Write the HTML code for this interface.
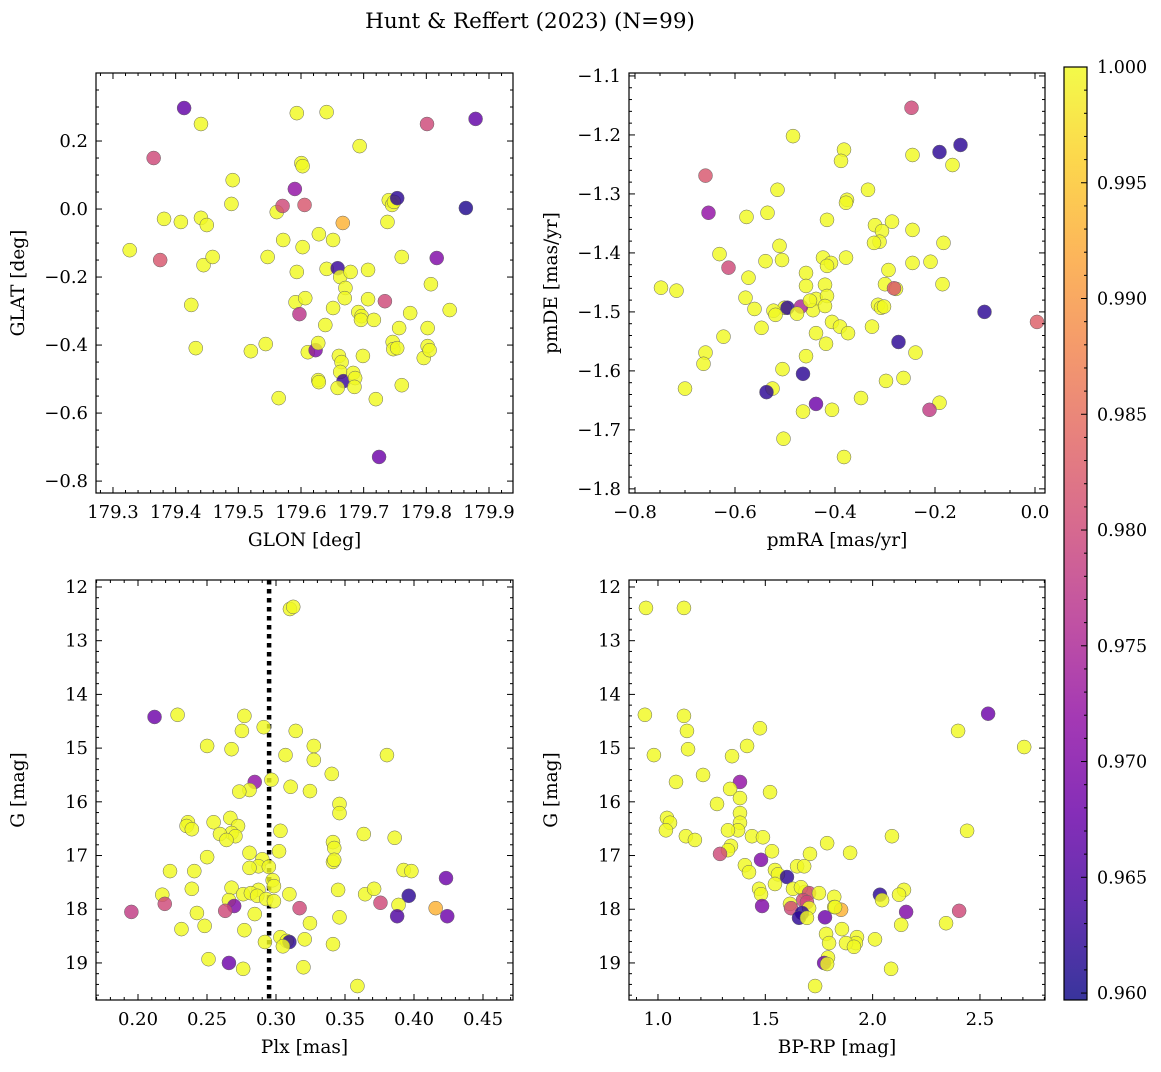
<!DOCTYPE html>
<html><head><meta charset="utf-8"><style>
body{margin:0;background:#fff}
svg text{font-family:"DejaVu Serif","Liberation Serif",serif;fill:#000}
</style></head><body>
<svg id="fig" width="1161" height="1067" xmlns="http://www.w3.org/2000/svg">
<text x="530" y="28" font-size="21.5" text-anchor="middle">Hunt &amp; Reffert (2023) (N=99)</text>
</svg>
<script>
// Panel 1: GLON / GLAT
const p1x=[179.4135,179.4404,179.3649,179.3267,179.3753,179.3815,179.4083,179.4404,179.4497,179.4445,179.4590,179.4249,179.4321,179.4910,179.4890,179.5200,179.5437,179.5468,179.5613,179.5644,179.5706,179.5716,179.5933,179.5902,179.6057,179.6006,179.6026,179.6026,179.5933,179.5913,179.5975,179.6068,179.6109,179.6233,179.6285,179.6275,179.6409,179.6409,179.6512,179.6275,179.6285,179.6667,179.6585,179.6626,179.6709,179.6698,179.6791,179.6512,179.6388,179.6605,179.6647,179.6626,179.6678,179.6585,179.6833,179.6864,179.6853,179.6915,179.6967,179.6957,179.6988,179.6936,179.7070,179.7070,179.7163,179.7194,179.7339,179.7380,179.7401,179.7453,179.7484,179.7535,179.7246,179.7463,179.7473,179.7535,179.7566,179.7608,179.7608,179.7742,179.7959,179.8021,179.8052,179.8021,179.8073,179.8011,179.8166,179.8373,179.8631,179.8786];
const p1y=[0.297,0.25,0.15,-0.121,-0.15,-0.029,-0.038,-0.026,-0.047,-0.165,-0.141,-0.282,-0.409,0.085,0.015,-0.418,-0.397,-0.141,-0.009,-0.556,0.009,-0.091,0.282,0.059,0.012,0.135,0.126,-0.112,-0.185,-0.274,-0.309,-0.262,-0.421,-0.415,-0.074,-0.394,0.285,-0.176,-0.091,-0.503,-0.509,-0.041,-0.174,-0.2,-0.232,-0.262,-0.185,-0.291,-0.341,-0.432,-0.45,-0.479,-0.506,-0.526,-0.482,-0.497,-0.523,-0.303,-0.315,-0.326,-0.432,0.185,-0.179,-0.265,-0.326,-0.559,-0.271,-0.038,0.026,0.012,0.021,0.032,-0.729,-0.391,-0.412,-0.409,-0.35,-0.141,-0.518,-0.306,-0.438,-0.403,-0.415,-0.35,-0.221,0.25,-0.144,-0.297,0.003,0.265];
const p1c=[0.967,1,0.98,1,0.982,1,1,1,1,1,1,1,1,1,1,1,1,1,1,1,0.98,1,1,0.972,0.982,1,1,1,1,1,0.977,1,1,0.97,1,1,1,1,1,1,1,0.993,0.963,1,1,1,1,1,1,1,1,1,0.963,1,1,1,1,1,1,1,1,1,1,1,1,1,0.98,1,1,1,1,0.962,0.968,1,1,1,1,1,1,1,1,1,1,1,1,0.98,0.97,1,0.961,0.967];
// Panel 2: pmRA / pmDE
const p2x=[-0.247,-0.149,-0.191,-0.245,-0.165,-0.659,-0.653,-0.484,-0.382,-0.388,-0.515,-0.334,-0.376,-0.378,-0.577,-0.535,-0.416,-0.320,-0.286,-0.306,-0.245,-0.311,-0.322,-0.183,-0.511,-0.631,-0.613,-0.539,-0.506,-0.424,-0.408,-0.416,-0.378,-0.245,-0.209,-0.458,-0.293,-0.458,-0.420,-0.573,-0.748,-0.717,-0.300,-0.185,-0.278,-0.282,-0.579,-0.438,-0.416,-0.444,-0.501,-0.561,-0.523,-0.468,-0.495,-0.476,-0.420,-0.450,-0.314,-0.308,-0.302,-0.101,0.004,-0.547,-0.519,-0.438,-0.406,-0.390,-0.374,-0.326,-0.623,-0.273,-0.418,-0.458,-0.239,-0.659,-0.663,-0.505,-0.464,-0.263,-0.298,-0.700,-0.525,-0.537,-0.348,-0.438,-0.191,-0.211,-0.464,-0.406,-0.503,-0.382];
const p2y=[-1.154,-1.217,-1.229,-1.234,-1.251,-1.269,-1.332,-1.202,-1.225,-1.244,-1.293,-1.293,-1.31,-1.315,-1.339,-1.332,-1.344,-1.353,-1.347,-1.363,-1.361,-1.381,-1.383,-1.383,-1.388,-1.402,-1.425,-1.414,-1.412,-1.408,-1.417,-1.422,-1.408,-1.417,-1.415,-1.434,-1.429,-1.456,-1.454,-1.442,-1.459,-1.464,-1.453,-1.453,-1.461,-1.46,-1.476,-1.478,-1.473,-1.497,-1.493,-1.495,-1.498,-1.491,-1.493,-1.503,-1.49,-1.481,-1.488,-1.493,-1.491,-1.5,-1.517,-1.527,-1.505,-1.536,-1.517,-1.525,-1.536,-1.525,-1.542,-1.551,-1.554,-1.575,-1.569,-1.569,-1.588,-1.597,-1.605,-1.612,-1.617,-1.63,-1.63,-1.636,-1.646,-1.656,-1.654,-1.666,-1.669,-1.666,-1.715,-1.746];
const p2c=[0.98,0.962,0.962,1,1,0.982,0.972,1,1,1,1,1,1,1,1,1,1,1,1,1,1,1,1,1,1,1,0.98,1,1,1,1,1,1,1,1,1,1,1,1,1,1,1,1,1,1,0.982,1,1,1,1,1,1,1,0.975,0.962,1,1,1,1,1,1,0.962,0.983,1,1,1,1,1,1,1,1,0.962,1,1,1,1,1,1,0.962,1,1,1,1,0.962,1,0.968,1,0.978,1,1,1,1];
// Panel 3: Plx / G
const p3x=[0.3101,0.3125,0.2120,0.2287,0.2771,0.2753,0.2911,0.3143,0.2501,0.2678,0.3274,0.3069,0.3274,0.3804,0.3404,0.2846,0.2967,0.3106,0.2808,0.3246,0.2734,0.3460,0.3460,0.2362,0.2548,0.2352,0.2390,0.2669,0.2725,0.2678,0.2706,0.2594,0.2641,0.3032,0.3636,0.3860,0.3413,0.3422,0.3413,0.2501,0.2808,0.3022,0.2901,0.2873,0.2948,0.3422,0.2232,0.2408,0.2808,0.3925,0.3981,0.4232,0.2976,0.2390,0.2678,0.2762,0.2873,0.2818,0.2985,0.3097,0.2864,0.3450,0.3646,0.3711,0.2176,0.2659,0.2929,0.2194,0.2697,0.2985,0.3757,0.3962,0.3888,0.4157,0.3171,0.1952,0.2427,0.2632,0.2846,0.3878,0.4241,0.3460,0.3246,0.2315,0.2483,0.2771,0.3032,0.3208,0.2920,0.3078,0.3097,0.3050,0.3413,0.2511,0.2659,0.2762,0.3199,0.3590];
const p3y=[12.41,12.37,14.42,14.38,14.40,14.68,14.61,14.68,14.96,15.02,14.96,15.13,15.22,15.13,15.48,15.63,15.59,15.72,15.78,15.8,15.81,16.04,16.21,16.38,16.38,16.45,16.51,16.3,16.45,16.58,16.64,16.6,16.71,16.54,16.6,16.67,16.75,16.86,17.12,17.03,16.95,16.92,17.07,17.2,17.21,17.08,17.29,17.29,17.23,17.27,17.29,17.42,17.46,17.62,17.6,17.72,17.64,17.7,17.57,17.72,17.75,17.64,17.72,17.62,17.73,17.83,17.81,17.9,17.94,17.85,17.88,17.75,17.92,17.98,17.98,18.05,18.07,18.03,18.09,18.13,18.13,18.15,18.26,18.37,18.31,18.39,18.52,18.56,18.61,18.59,18.61,18.69,18.65,18.93,19.0,19.11,19.08,19.43];
const p3c=[1,1,0.968,1,1,1,1,1,1,1,1,1,1,1,1,0.972,1,1,1,1,1,1,1,1,1,1,1,1,1,1,1,1,1,1,1,1,1,1,1,1,1,1,1,1,1,1,1,1,1,1,1,0.968,1,1,1,1,1,1,1,1,1,1,1,1,1,1,1,0.98,0.97,1,0.98,0.962,1,0.993,0.98,0.978,1,0.98,1,0.965,0.968,1,1,1,1,1,1,1,1,1,0.962,1,1,1,0.968,1,1,1];
// Panel 4: BP-RP / G
const p4x=[0.944,1.121,0.939,1.121,0.981,1.135,1.475,2.538,2.398,2.706,1.14,1.345,1.415,1.21,1.084,1.382,1.336,1.382,1.522,1.275,1.382,1.042,1.056,1.037,1.382,1.373,1.13,1.172,1.326,1.438,1.489,1.34,1.326,1.788,2.09,2.44,1.895,1.531,1.289,1.708,1.48,1.648,1.681,1.405,1.424,1.545,1.559,1.601,1.545,1.471,1.48,1.629,1.685,1.666,1.704,1.75,1.821,2.034,2.146,2.123,2.044,1.676,1.615,1.694,1.704,1.821,1.853,1.485,1.62,2.403,2.156,1.671,1.657,1.778,1.694,1.825,2.133,2.342,1.857,1.783,1.927,1.922,2.011,1.797,1.876,1.913,1.792,1.774,1.788,2.086,1.732];
const p4y=[12.39,12.39,14.38,14.4,15.13,14.68,14.63,14.36,14.68,14.98,15.02,15.15,14.96,15.5,15.63,15.63,15.76,15.93,15.82,16.04,16.21,16.3,16.39,16.53,16.39,16.53,16.64,16.71,16.53,16.64,16.66,16.82,16.9,16.77,16.64,16.54,16.95,16.92,16.97,16.97,17.08,17.2,17.2,17.18,17.31,17.27,17.35,17.4,17.53,17.62,17.72,17.62,17.68,17.59,17.7,17.7,17.77,17.73,17.64,17.73,17.83,17.83,17.9,17.87,17.98,17.96,18.01,17.94,17.98,18.03,18.05,18.07,18.16,18.15,18.16,17.96,18.29,18.26,18.37,18.46,18.52,18.63,18.56,18.63,18.63,18.7,18.9,19.0,19.02,19.11,19.43];
const p4c=[1,1,1,1,1,1,1,0.968,1,1,1,1,1,1,1,0.972,1,1,1,1,1,1,1,1,1,1,1,1,1,1,1,1,1,1,1,1,1,1,0.98,1,0.97,1,1,1,1,1,1,0.962,1,1,1,1,1,1,0.98,1,1,0.962,1,1,1,0.98,1,0.98,1,1,0.993,0.97,0.98,0.98,0.97,0.962,0.962,0.968,1,1,1,1,1,1,1,1,1,1,1,1,1,0.968,1,1,1];
const cbTicks=[0.960,0.965,0.970,0.975,0.980,0.985,0.990,0.995,1.000];
const plxCut=[0.295];

const NS="http://www.w3.org/2000/svg";
const svg=document.getElementById('fig');
function mk(tag,attrs,parent){const e=document.createElementNS(NS,tag);for(const k in attrs)e.setAttribute(k,attrs[k]);(parent||svg).appendChild(e);return e;}
const stops=[[13,8,135],[65,4,157],[106,0,168],[143,13,164],[177,42,144],[204,71,120],[225,100,98],[242,132,75],[252,166,54],[252,206,37],[240,249,33]];
function plasma(t){t=Math.max(0,Math.min(1,t))*10;const i=Math.min(9,Math.floor(t)),f=t-i;const a=stops[i],b=stops[i+1];return 'rgb('+[0,1,2].map(k=>Math.round(a[k]+(b[k]-a[k])*f)).join(',')+')';}
const cmin=0.9597,cmax=1.0;
function col(v){return plasma((v-cmin)/(cmax-cmin));}
function fmt(v,d){return v.toFixed(d).replace('-','\u2212');}

function panel(o){
  const g=mk('g',{});
  
  
  const sx=v=>o.x0+(v-o.xmin)/(o.xmax-o.xmin)*(o.x1-o.x0);
  const sy=v=>o.inv? o.y0+(v-o.ymin)/(o.ymax-o.ymin)*(o.y1-o.y0) : o.y1-(v-o.ymin)/(o.ymax-o.ymin)*(o.y1-o.y0);
  if(o.vline){const l=mk('line',{x1:sx(o.vline[0]),x2:sx(o.vline[0]),y1:o.y0,y2:o.y1,stroke:'#000','stroke-width':4.5,'stroke-dasharray':'4.5,4.5'},g);
    
    }
  for(let i=0;i<o.xs.length;i++){
    const c=mk('circle',{cx:sx(o.xs[i]),cy:sy(o.ys[i]),r:7,fill:col(o.cs[i]),'fill-opacity':0.82,stroke:'#666','stroke-width':0.5},g);
    
    
  }
  mk('rect',{x:o.x0,y:o.y0,width:o.x1-o.x0,height:o.y1-o.y0,fill:'none',stroke:'#000','stroke-width':1.2},g);
  const nx=Math.round((o.xt1-o.xt0)/o.xs_);
  for(let k=-2;k<=nx+2;k++){
    for(let m=0;m<o.xm;m++){
      const v=o.xt0+k*o.xs_+m*o.xs_/o.xm; if(v<o.xmin||v>o.xmax)continue;
      const X=sx(v),L=m==0?6:3;
      mk('line',{x1:X,x2:X,y1:o.y1,y2:o.y1-L,stroke:'#000','stroke-width':1},g);
      mk('line',{x1:X,x2:X,y1:o.y0,y2:o.y0+L,stroke:'#000','stroke-width':1},g);
    }
  }
  for(let k=0;k<=nx;k++){const v=o.xt0+k*o.xs_;const t=mk('text',{x:sx(v),y:o.y1+25,'font-size':18,'text-anchor':'middle'},g);t.textContent=fmt(v,o.xd);
    
    }
  const ny=Math.round((o.yt1-o.yt0)/o.ys_);
  for(let k=-2;k<=ny+2;k++){
    for(let m=0;m<o.ym;m++){
      const v=o.yt0+k*o.ys_+m*o.ys_/o.ym; if(v<Math.min(o.ymin,o.ymax)||v>Math.max(o.ymin,o.ymax))continue;
      const Y=sy(v),L=m==0?6:3;
      mk('line',{x1:o.x0,x2:o.x0+L,y1:Y,y2:Y,stroke:'#000','stroke-width':1},g);
      mk('line',{x1:o.x1,x2:o.x1-L,y1:Y,y2:Y,stroke:'#000','stroke-width':1},g);
    }
  }
  for(let k=0;k<=ny;k++){const v=o.yt0+k*o.ys_;const t=mk('text',{x:o.x0-8,y:sy(v)+6,'font-size':18,'text-anchor':'end'},g);t.textContent=fmt(v,o.yd);
    
    }
  const xl=mk('text',{x:(o.x0+o.x1)/2,y:o.y1+53,'font-size':18.5,'text-anchor':'middle'},g);xl.textContent=o.xlab;
  
  
  const yx=o.x0-72;const yl=mk('text',{x:yx,y:(o.y0+o.y1)/2,'font-size':18.5,'text-anchor':'middle',transform:'rotate(-90 '+yx+' '+(o.y0+o.y1)/2+')'},g);yl.textContent=o.ylab;
  
  
}
panel({name:'glon-glat-panel',x0:96,x1:513,y0:73,y1:493,xmin:179.2729,xmax:179.9383,ymin:-0.835,ymax:0.4,xs:p1x,ys:p1y,cs:p1c,xt0:179.3,xt1:179.9,xs_:0.1,xm:5,xd:1,yt0:-0.8,yt1:0.2,ys_:0.2,ym:4,yd:1,xlab:'GLON [deg]',ylab:'GLAT [deg]'});
panel({name:'proper-motion-panel',x0:629,x1:1045,y0:73,y1:493,xmin:-0.812,xmax:0.020,ymin:-1.807,ymax:-1.095,xs:p2x,ys:p2y,cs:p2c,xt0:-0.8,xt1:0.0,xs_:0.2,xm:4,xd:1,yt0:-1.8,yt1:-1.1,ys_:0.1,ym:5,yd:1,xlab:'pmRA [mas/yr]',ylab:'pmDE [mas/yr]'});
panel({name:'parallax-magnitude-panel',x0:96,x1:513,y0:580,y1:1000,xmin:0.16957,xmax:0.47174,ymin:11.87,ymax:19.69,inv:true,xs:p3x,ys:p3y,cs:p3c,xt0:0.20,xt1:0.45,xs_:0.05,xm:5,xd:2,yt0:12,yt1:19,ys_:1,ym:5,yd:0,xlab:'Plx [mas]',ylab:'G [mag]',vline:plxCut});
panel({name:'color-magnitude-panel',x0:629,x1:1045,y0:580,y1:1000,xmin:0.865,xmax:2.803,ymin:11.87,ymax:19.69,inv:true,xs:p4x,ys:p4y,cs:p4c,xt0:1.0,xt1:2.5,xs_:0.5,xm:5,xd:1,yt0:12,yt1:19,ys_:1,ym:5,yd:0,xlab:'BP-RP [mag]',ylab:'G [mag]'});
// colorbar
const cb=mk('g',{});


const cx0=1064,cx1=1087,cy0=67,cy1=1000;
const defs=mk('defs',{},cb);const lg=mk('linearGradient',{id:'pl',x1:0,y1:1,x2:0,y2:0},defs);
for(let i=0;i<=10;i++)mk('stop',{offset:i/10,'stop-color':plasma(i/10)},lg);
mk('rect',{x:cx0,y:cy0,width:cx1-cx0,height:cy1-cy0,fill:'url(#pl)','fill-opacity':0.82},cb);
mk('rect',{x:cx0,y:cy0,width:cx1-cx0,height:cy1-cy0,fill:'none',stroke:'#000','stroke-width':1.2},cb);
const cy=v=>cy1-(v-cmin)/(cmax-cmin)*(cy1-cy0);
for(let v=0.960;v<=1.0001;v+=0.001){const major=Math.abs(v*200-Math.round(v*200))<1e-6;const Y=cy(v);
  mk('line',{x1:cx1,x2:cx1-(major?6:3),y1:Y,y2:Y,stroke:'#000','stroke-width':1},cb);}
cbTicks.forEach(v=>{const t=mk('text',{x:cx1+10,y:cy(v)+6,'font-size':17.5},cb);t.textContent=v.toFixed(3);
  
  });
</script>
</body></html>
